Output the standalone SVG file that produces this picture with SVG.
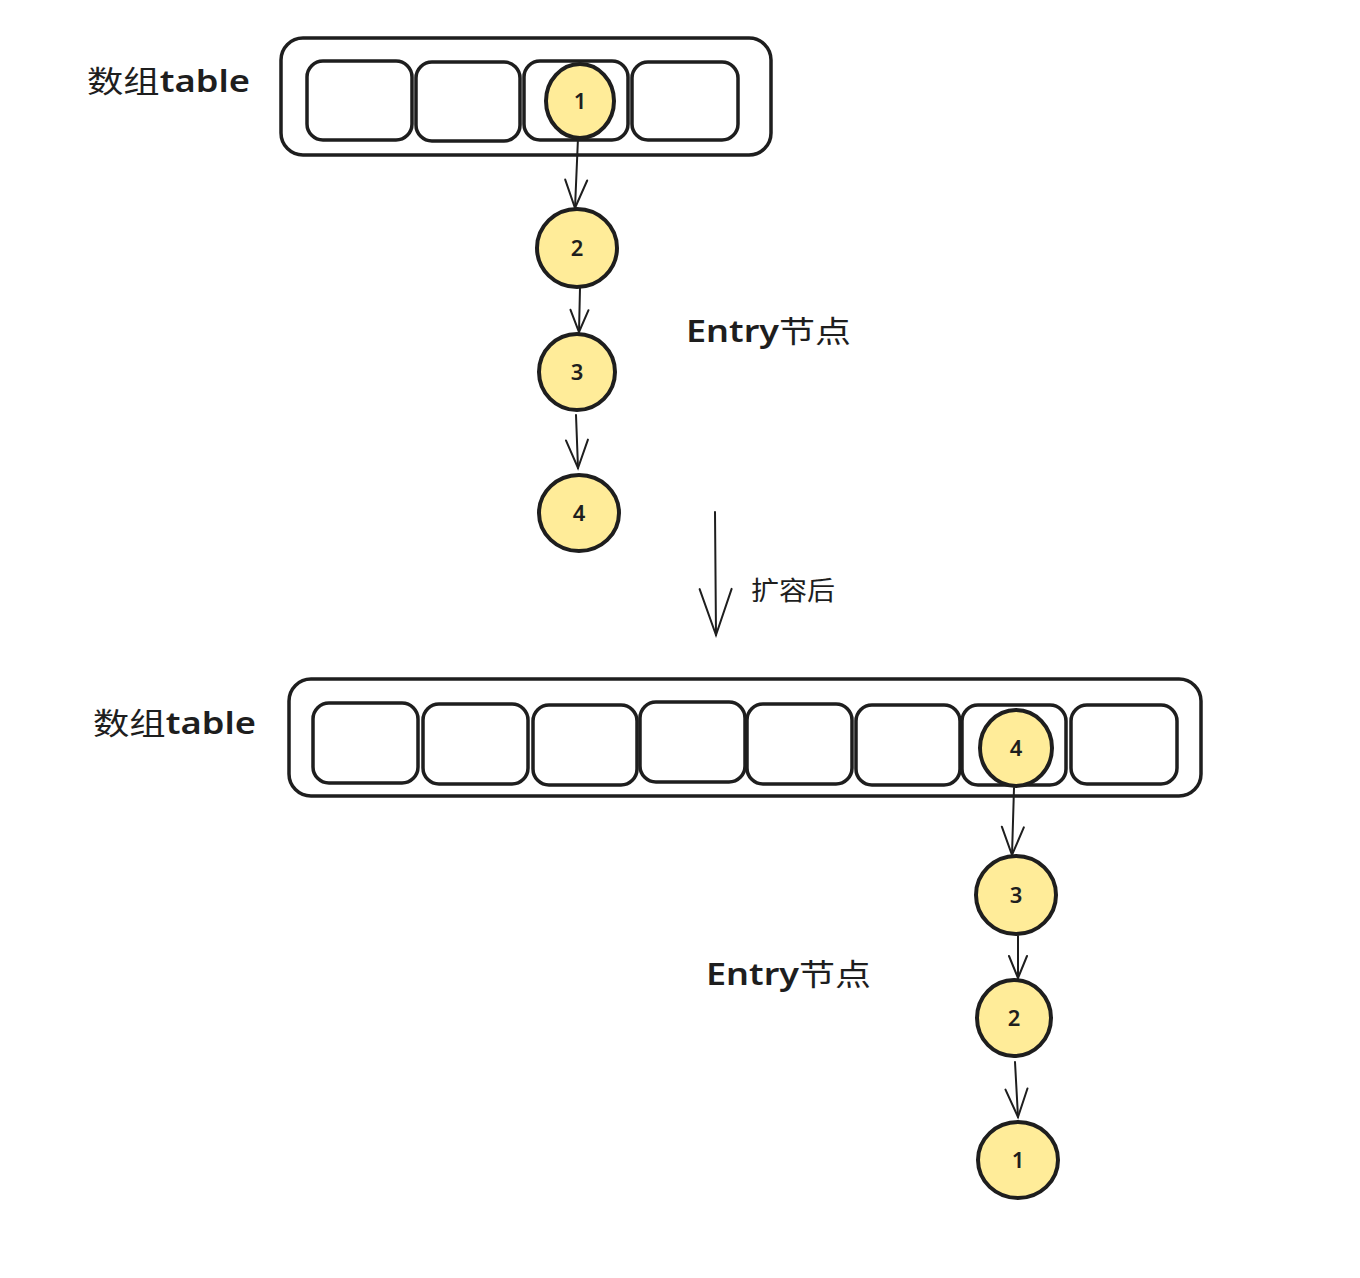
<svg xmlns="http://www.w3.org/2000/svg" width="1360" height="1278" viewBox="0 0 1360 1278">
<defs>
<style>
.box{fill:#ffffff;stroke:#1e1e1e;stroke-width:3.5;}
.cell{fill:#ffffff;stroke:#1e1e1e;stroke-width:3.5;}
.node{fill:#ffec99;stroke:#1e1e1e;stroke-width:4;}
.num{font-family:"Noto Sans","Liberation Sans",sans-serif;font-size:22px;font-weight:600;fill:#1e1e1e;text-anchor:middle;}
.lbl{font-family:"Noto Sans","Noto Sans CJK SC",sans-serif;font-size:30px;fill:#1e1e1e;}
.lat{font-weight:600;}
.cjk{font-family:"Noto Sans CJK SC",sans-serif;font-weight:400;}
.lbl2{font-family:"Noto Sans CJK SC","Noto Sans",sans-serif;font-size:26px;fill:#1e1e1e;}
.edge{fill:none;stroke:#1e1e1e;stroke-width:2;stroke-linecap:round;}
</style>
<marker id="ah" markerUnits="userSpaceOnUse" markerWidth="40" markerHeight="40" viewBox="-35 -20 40 40" refX="0" refY="0" orient="auto">
<path d="M-28,-11 L0,0 L-28,11" fill="none" stroke="#1e1e1e" stroke-width="2" stroke-linecap="round"/>
</marker>
<marker id="ahs" markerUnits="userSpaceOnUse" markerWidth="40" markerHeight="40" viewBox="-35 -20 40 40" refX="0" refY="0" orient="auto">
<path d="M-22,-9 L0,0 L-22,9" fill="none" stroke="#1e1e1e" stroke-width="2" stroke-linecap="round"/>
</marker>
<marker id="ahb" markerUnits="userSpaceOnUse" markerWidth="60" markerHeight="60" viewBox="-55 -30 60 60" refX="0" refY="0" orient="auto">
<path d="M-46,-16 L0,0 L-46,16" fill="none" stroke="#1e1e1e" stroke-width="2" stroke-linecap="round"/>
</marker>
</defs>
<rect width="1360" height="1278" fill="#ffffff"/>

<g id="table-top">
<rect class="box" x="281" y="38" width="490" height="117" rx="22"/>
<rect class="cell" x="307" y="61" width="105" height="79" rx="16"/>
<rect class="cell" x="416" y="62" width="104" height="79" rx="16"/>
<rect class="cell" x="524" y="61" width="104" height="79" rx="16"/>
<rect class="cell" x="632" y="62" width="106" height="78" rx="16"/>
</g>
<text class="lbl" x="87" y="92" textLength="163" lengthAdjust="spacingAndGlyphs"><tspan class="cjk">数组</tspan><tspan class="lat">table</tspan></text>

<g id="node-top-1"><ellipse class="node" cx="580" cy="101" rx="34" ry="37"/><text class="num" x="580" y="109">1</text></g>
<g id="node-top-2"><ellipse class="node" cx="577" cy="248" rx="40" ry="39"/><text class="num" x="577" y="256">2</text></g>
<g id="node-top-3"><ellipse class="node" cx="577" cy="372" rx="38" ry="38"/><text class="num" x="577" y="380">3</text></g>
<g id="node-top-4"><ellipse class="node" cx="579" cy="513" rx="40" ry="38"/><text class="num" x="579" y="521">4</text></g>
<text class="lbl" x="686" y="342" textLength="165" lengthAdjust="spacingAndGlyphs"><tspan class="lat">Entry</tspan><tspan class="cjk">节点</tspan></text>

<text class="lbl2" x="751" y="600" textLength="84" lengthAdjust="spacingAndGlyphs">扩容后</text>

<g id="table-bottom">
<rect class="box" x="289" y="679" width="912" height="117" rx="22"/>
<rect class="cell" x="313" y="703" width="105" height="80" rx="16"/>
<rect class="cell" x="423" y="704" width="105" height="80" rx="16"/>
<rect class="cell" x="533" y="705" width="104" height="80" rx="16"/>
<rect class="cell" x="640" y="702" width="105" height="80" rx="16"/>
<rect class="cell" x="747" y="704" width="105" height="80" rx="16"/>
<rect class="cell" x="856" y="705" width="104" height="80" rx="16"/>
<rect class="cell" x="962" y="705" width="104" height="80" rx="16"/>
<rect class="cell" x="1071" y="705" width="106" height="79" rx="16"/>
</g>
<text class="lbl" x="93" y="734" textLength="163" lengthAdjust="spacingAndGlyphs"><tspan class="cjk">数组</tspan><tspan class="lat">table</tspan></text>

<g id="node-bot-4"><ellipse class="node" cx="1016" cy="748" rx="36" ry="38"/><text class="num" x="1016" y="756">4</text></g>
<g id="node-bot-3"><ellipse class="node" cx="1016" cy="895" rx="40" ry="39"/><text class="num" x="1016" y="903">3</text></g>
<g id="node-bot-2"><ellipse class="node" cx="1014" cy="1018" rx="37" ry="38"/><text class="num" x="1014" y="1026">2</text></g>
<g id="node-bot-1"><ellipse class="node" cx="1018" cy="1160" rx="40" ry="38"/><text class="num" x="1018" y="1168">1</text></g>
<text class="lbl" x="706" y="985" textLength="165" lengthAdjust="spacingAndGlyphs"><tspan class="lat">Entry</tspan><tspan class="cjk">节点</tspan></text>

<g id="connectors">
<path class="edge" d="M578,138 L575,208" marker-end="url(#ah)"/>
<path class="edge" d="M580,288 L579,332" marker-end="url(#ahs)"/>
<path class="edge" d="M576,415 L578,468" marker-end="url(#ah)"/>
<path class="edge" d="M715,512 L716,635" marker-end="url(#ahb)"/>
<path class="edge" d="M1014,788 L1012,855" marker-end="url(#ah)"/>
<path class="edge" d="M1018,936 L1018,978" marker-end="url(#ahs)"/>
<path class="edge" d="M1015,1062 L1018,1117" marker-end="url(#ah)"/>
</g>
</svg>
